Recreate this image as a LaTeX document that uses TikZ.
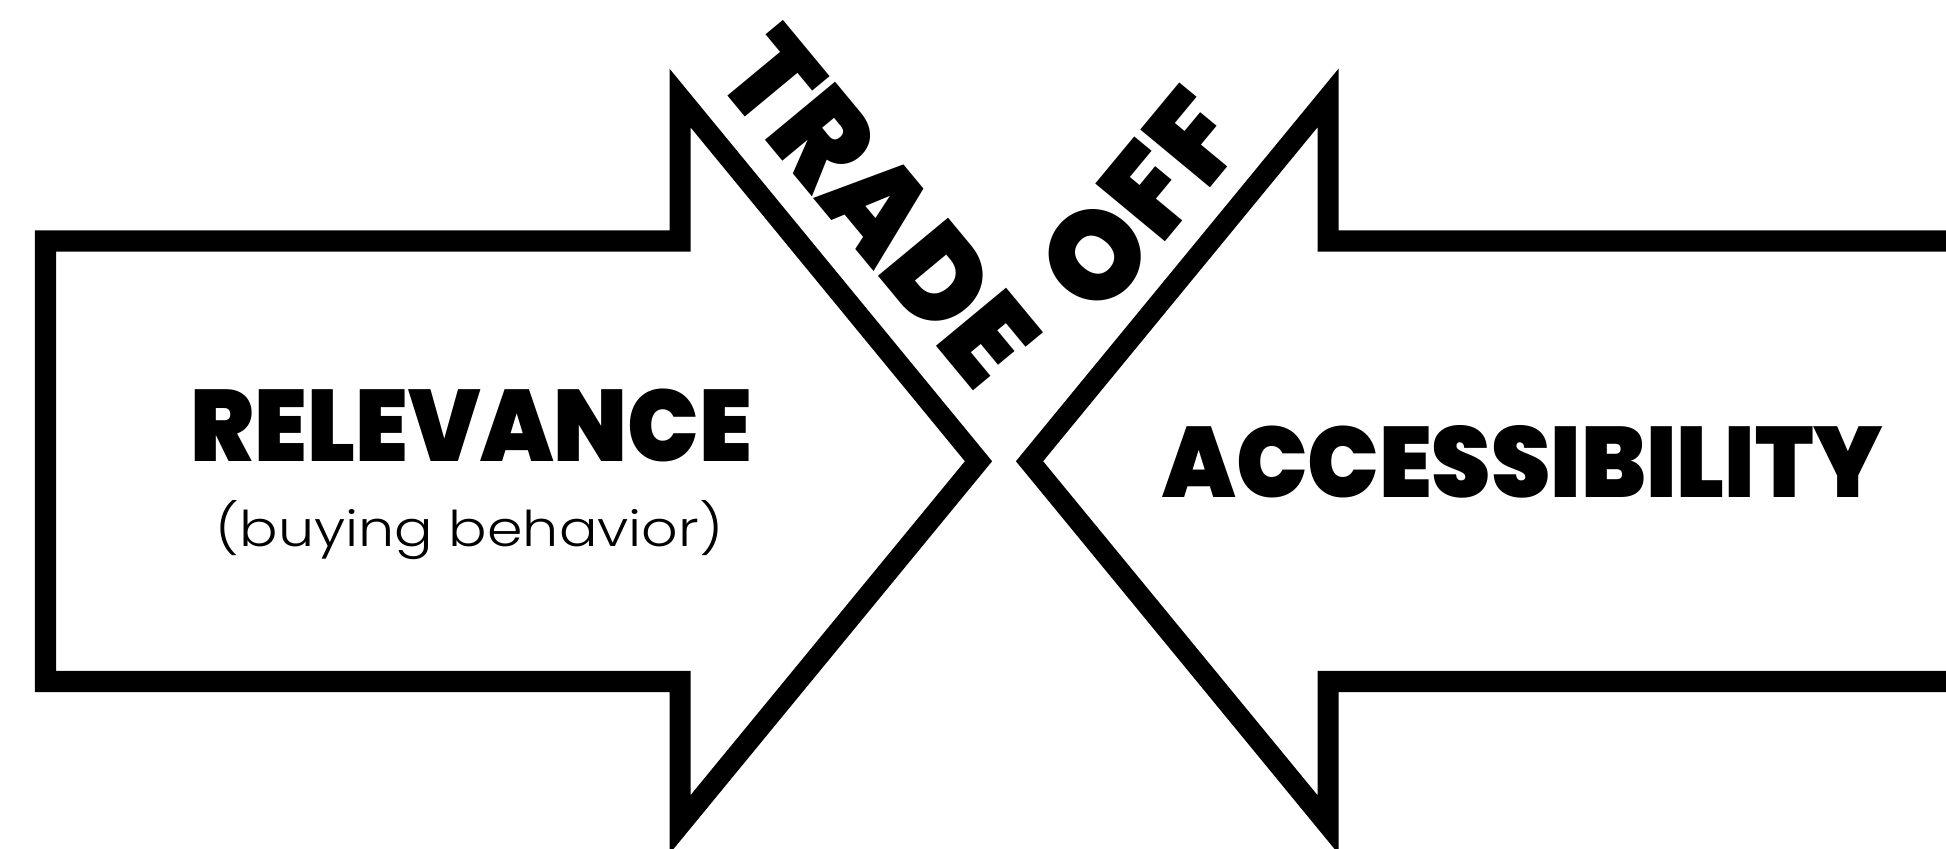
\documentclass[tikz,border=0pt]{standalone}
\usepackage{fontspec}
\usepackage{graphicx}
\newfontfamily\heavyfont{Poppins Black}
\newfontfamily\lightfont{Poppins Light}
\begin{document}
\begin{tikzpicture}[x=0.01cm,y=-0.01cm,
  arrowshape/.style={draw=black,line width=0.21cm,line join=miter,fill=white},
  txt/.style={inner sep=0pt,outer sep=0pt,text=black}]
\useasboundingbox (0,0) rectangle (1946,849);
\clip (0,0) rectangle (1946,849);
\fill[white] (0,0) rectangle (1946,849);
% left arrow (pointing right)
\draw[arrowshape] (45.5,241) -- (680,241) -- (680,98) -- (978.5,461.25)
  -- (680,824.5) -- (680,681.5) -- (45.5,681.5) -- cycle;
% right arrow (pointing left)
\draw[arrowshape] (2100,241) -- (1328,241) -- (1328,98) -- (1029.5,461.25)
  -- (1328,824.5) -- (1328,681.5) -- (2100,681.5);
% texts
\node[txt,anchor=base] (rel) at (471.5,461) {\resizebox{5.61cm}{0.725cm}{\heavyfont RELEVANCE}};
\node[txt,anchor=base] (buy) at (469.5,546) {\resizebox{5.07cm}{0.46cm}{\lightfont (buying behavior)}};
\node[txt,anchor=base] (acc) at (1523,497) {\resizebox{7.20cm}{0.72cm}{\heavyfont ACCESSIBILITY}};
\node[txt,anchor=base west,rotate=-50.35] (trade) at (712.9,77.1) {\resizebox{4.12cm}{0.91cm}{\heavyfont TRADE}};
\node[txt,anchor=base west,rotate=50.35] (off) at (1099.7,321.1) {\resizebox{2.37cm}{0.92cm}{\heavyfont OFF}};
\end{tikzpicture}
\end{document}
